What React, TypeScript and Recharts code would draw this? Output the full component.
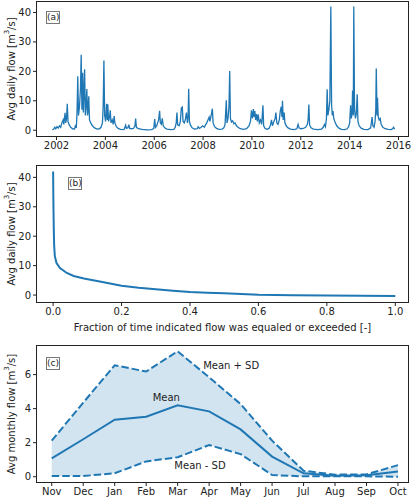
import React from "react";
import {
  LineChart,
  Line,
  ComposedChart,
  Area,
  XAxis,
  YAxis,
  ReferenceDot,
} from "recharts";

// (a) daily flow series, [decimal year, flow m3/s]
const dailyFlow: [number, number][] = [
  [2001.83, 0.1], [2001.88, 0.3], [2001.93, 1.0], [2001.97, 0.5], [2002.02, 1.2],
  [2002.07, 0.7], [2002.12, 1.5], [2002.17, 1.0], [2002.22, 2.5], [2002.27, 3.5],
  [2002.3, 2.0], [2002.35, 5.9], [2002.38, 2.5], [2002.41, 4.0], [2002.44, 9.0],
  [2002.47, 3.0], [2002.52, 1.8], [2002.58, 1.0], [2002.66, 0.5], [2002.74, 0.4],
  [2002.78, 1.8], [2002.81, 0.8], [2002.84, 6.0], [2002.87, 18.3], [2002.9, 5.0],
  [2002.94, 8.0], [2002.98, 14.0], [2003.01, 25.6], [2003.04, 7.0], [2003.07, 19.5],
  [2003.1, 6.0], [2003.15, 20.7], [2003.18, 5.0], [2003.21, 8.0], [2003.24, 14.0],
  [2003.27, 5.0], [2003.29, 6.5], [2003.32, 11.5], [2003.35, 3.5], [2003.4, 2.5],
  [2003.47, 1.5], [2003.56, 0.8], [2003.66, 0.4], [2003.76, 0.5], [2003.82, 1.0],
  [2003.88, 2.5], [2003.91, 8.0], [2003.94, 23.7], [2003.97, 5.0], [2004.01, 3.0],
  [2004.05, 9.0], [2004.08, 3.5], [2004.1, 8.8], [2004.13, 3.0], [2004.17, 4.5],
  [2004.2, 6.8], [2004.23, 2.5], [2004.28, 3.5], [2004.32, 2.0], [2004.36, 4.8],
  [2004.39, 2.5], [2004.45, 1.2], [2004.52, 0.6], [2004.62, 0.3], [2004.76, 0.2],
  [2004.83, 1.7], [2004.86, 0.6], [2004.92, 0.8], [2004.96, 1.9], [2004.99, 0.7],
  [2005.05, 0.5], [2005.15, 0.6], [2005.21, 1.5], [2005.24, 4.0], [2005.27, 1.0],
  [2005.35, 0.5], [2005.5, 0.3], [2005.7, 0.1], [2005.9, 0.2], [2005.98, 0.6],
  [2006.02, 3.8], [2006.05, 1.0], [2006.1, 1.5], [2006.14, 2.5], [2006.18, 3.5],
  [2006.22, 6.6], [2006.25, 2.5], [2006.29, 2.0], [2006.33, 4.0], [2006.37, 1.5],
  [2006.43, 0.8], [2006.52, 0.4], [2006.68, 0.2], [2006.8, 0.3], [2006.86, 1.0],
  [2006.9, 2.5], [2006.93, 6.0], [2006.96, 1.8], [2007.02, 1.5], [2007.07, 3.0],
  [2007.11, 7.5], [2007.15, 7.8], [2007.18, 3.0], [2007.23, 2.5], [2007.27, 3.5],
  [2007.32, 6.0], [2007.36, 2.5], [2007.39, 5.0], [2007.41, 14.1], [2007.44, 3.0],
  [2007.48, 1.8], [2007.55, 0.8], [2007.65, 0.4], [2007.76, 0.5], [2007.8, 1.2],
  [2007.85, 0.6], [2007.92, 1.0], [2007.98, 1.5], [2008.05, 1.0], [2008.1, 1.8],
  [2008.15, 2.5], [2008.2, 3.5], [2008.25, 4.5], [2008.28, 3.0], [2008.32, 4.5],
  [2008.35, 6.0], [2008.38, 7.3], [2008.41, 2.5], [2008.47, 1.2], [2008.55, 0.6],
  [2008.65, 0.3], [2008.78, 0.4], [2008.85, 0.8], [2008.9, 2.0], [2008.95, 10.2],
  [2008.98, 2.5], [2009.02, 4.0], [2009.06, 8.0], [2009.09, 20.1], [2009.12, 4.0],
  [2009.16, 2.8], [2009.21, 3.2], [2009.26, 2.2], [2009.31, 2.5], [2009.36, 1.6],
  [2009.43, 1.0], [2009.52, 0.5], [2009.65, 0.3], [2009.78, 0.5], [2009.88, 1.5],
  [2009.94, 3.0], [2009.98, 6.8], [2010.02, 4.0], [2010.06, 7.2], [2010.09, 4.5],
  [2010.12, 6.5], [2010.15, 3.5], [2010.19, 5.5], [2010.22, 3.0], [2010.26, 5.3],
  [2010.3, 2.5], [2010.35, 3.5], [2010.4, 2.0], [2010.45, 8.5], [2010.48, 1.5],
  [2010.54, 0.6], [2010.62, 0.3], [2010.7, 0.6], [2010.76, 1.8], [2010.8, 3.5],
  [2010.84, 1.5], [2010.9, 3.0], [2010.95, 4.0], [2010.98, 6.0], [2011.02, 2.5],
  [2011.07, 2.0], [2011.12, 3.5], [2011.16, 6.5], [2011.2, 8.0], [2011.23, 4.5],
  [2011.25, 10.0], [2011.28, 3.5], [2011.32, 6.0], [2011.35, 2.5], [2011.4, 1.5],
  [2011.48, 0.8], [2011.58, 0.4], [2011.72, 0.2], [2011.84, 0.5], [2011.89, 2.0],
  [2011.93, 0.8], [2012.0, 0.5], [2012.1, 0.6], [2012.2, 1.0], [2012.27, 2.0],
  [2012.3, 3.5], [2012.33, 8.7], [2012.36, 1.8], [2012.42, 0.8], [2012.52, 0.4],
  [2012.7, 0.2], [2012.85, 0.4], [2012.92, 1.0], [2012.97, 2.0], [2013.01, 1.2],
  [2013.05, 4.0], [2013.08, 13.9], [2013.11, 5.0], [2013.15, 7.0], [2013.19, 10.0],
  [2013.23, 42.0], [2013.26, 9.0], [2013.29, 5.0], [2013.32, 6.5], [2013.35, 4.0],
  [2013.4, 2.8], [2013.47, 1.5], [2013.56, 0.7], [2013.66, 0.3], [2013.8, 0.2],
  [2013.9, 0.5], [2013.96, 1.2], [2014.0, 2.5], [2014.04, 8.5], [2014.07, 4.0],
  [2014.1, 6.0], [2014.12, 13.5], [2014.15, 5.0], [2014.17, 42.0], [2014.2, 7.0],
  [2014.24, 4.0], [2014.27, 5.5], [2014.31, 12.2], [2014.34, 3.0], [2014.39, 1.5],
  [2014.47, 0.7], [2014.58, 0.3], [2014.75, 0.2], [2014.86, 0.8], [2014.92, 4.5],
  [2014.95, 1.5], [2015.0, 1.0], [2015.04, 3.0], [2015.07, 7.0], [2015.09, 21.0],
  [2015.12, 5.0], [2015.14, 11.0], [2015.17, 4.5], [2015.21, 3.5], [2015.25, 4.0],
  [2015.29, 2.0], [2015.36, 1.0], [2015.45, 0.5], [2015.58, 0.3], [2015.7, 0.2],
  [2015.77, 0.6], [2015.8, 1.0], [2015.84, 0.3],
];
const yearTicks = [2002, 2004, 2006, 2008, 2010, 2012, 2014, 2016];
const dailyTicks = [0, 10, 20, 30, 40];

// (b) flow duration curve
const exceedFraction = [
  0, 0.001, 0.002, 0.003, 0.005, 0.01, 0.02, 0.04, 0.06, 0.09, 0.14, 0.2, 0.25,
  0.3, 0.35, 0.4, 0.45, 0.5, 0.55, 0.6, 0.65, 0.7, 0.8, 0.9, 1.0,
];
const durationFlow = [
  42, 30, 22, 17, 13.2, 10.9, 9.2, 7.5, 6.5, 5.6, 4.5, 3.2, 2.5,
  2.0, 1.5, 1.0, 0.8, 0.6, 0.35, 0.12, 0.02, -0.05, -0.15, -0.25, -0.3,
];
const fractionTicks = [0, 0.2, 0.4, 0.6, 0.8, 1.0];

// (c) monthly means (water year)
const months = ["Nov", "Dec", "Jan", "Feb", "Mar", "Apr", "May", "Jun", "Jul", "Aug", "Sep", "Oct"];
const monthlyMean = [1.08, 2.2, 3.35, 3.52, 4.2, 3.84, 2.78, 1.18, 0.2, 0.06, 0.08, 0.31];
const monthlyUpper = [2.12, 4.35, 6.55, 6.18, 7.37, 5.84, 4.27, 2.12, 0.35, 0.12, 0.14, 0.68];
const monthlyLower = [0.04, 0.04, 0.2, 0.9, 1.14, 1.86, 1.33, 0.1, 0.02, 0.02, 0.02, 0.0];
const monthlyTicks = [0, 2, 4, 6];

const BLUE = "#1f77b4";
const INK = "#222";
const FONT = '"DejaVu Sans", sans-serif';
const tickStyle = { fontSize: 10, fill: INK, fontFamily: FONT };

const seriesA = dailyFlow.map(([t, v]) => ({ t, v }));
const seriesB = exceedFraction.map((f, i) => ({ f, q: durationFlow[i] }));
const seriesC = months.map((_, i) => ({
  m: i,
  mean: monthlyMean[i],
  upper: monthlyUpper[i],
  lower: monthlyLower[i],
  band: [monthlyLower[i], monthlyUpper[i]],
}));

const yLabel = (text: string) => (props: any) => {
  const vb = props.viewBox || {};
  const cx = 11;
  const cy = vb.y + vb.height / 2;
  return (
    <text
      x={cx}
      y={cy}
      transform={`rotate(-90, ${cx}, ${cy})`}
      textAnchor="middle"
      dominantBaseline="central"
      fontSize={10}
      fill={INK}
      fontFamily={FONT}
    >
      {text} [m<tspan dy={-4} fontSize={7}>3</tspan>
      <tspan dy={4}>/s]</tspan>
    </text>
  );
};

// axes box drawn over the plot area (matplotlib spines)
const Spines = ({ left, top, width, height }: { left: number; top: number; width: number; height: number }) => (
  <div
    style={{
      position: "absolute",
      left,
      top,
      width,
      height,
      boxSizing: "border-box",
      border: `1px solid ${INK}`,
      pointerEvents: "none",
    }}
  />
);

const PanelTag = ({ text, left, top }: { text: string; left: number; top: number }) => (
  <div
    style={{
      position: "absolute",
      left,
      top,
      width: 14,
      height: 13,
      boxSizing: "border-box",
      border: "1px solid #777",
      background: "#fff",
      fontSize: 9,
      lineHeight: "11px",
      textAlign: "center",
      color: INK,
      fontFamily: FONT,
    }}
  >
    {text}
  </div>
);

export default function App() {
  return (
    <div style={{ position: "absolute", left: 0, top: 0, width: 413, height: 500, background: "#fff", fontFamily: FONT }}>
      <div style={{ position: "absolute", left: 0, top: 0 }}>
        <LineChart width={413} height={160} data={seriesA} margin={{ top: 1, right: 4, left: 0, bottom: 0 }}>
          <XAxis
            dataKey="t"
            type="number"
            domain={[2001.16, 2016.43]}
            ticks={yearTicks}
            interval={0}
            allowDataOverflow
            height={23}
            tickSize={3}
            tickMargin={2}
            tick={tickStyle}
            axisLine={false}
            stroke={INK}
          />
          <YAxis
            type="number"
            domain={[-2.3, 43.9]}
            ticks={dailyTicks}
            interval={0}
            allowDataOverflow
            width={36}
            tickSize={3}
            tickMargin={2}
            tick={tickStyle}
            axisLine={false}
            stroke={INK}
            label={{ content: yLabel("Avg daily flow") }}
          />
          <Line type="linear" dataKey="v" stroke={BLUE} strokeWidth={1.3} dot={false} isAnimationActive={false} />
        </LineChart>
        <Spines left={36} top={1} width={373} height={136} />
        <PanelTag text="(a)" left={46} top={11} />
      </div>

      <div style={{ position: "absolute", left: 0, top: 160 }}>
        <LineChart width={413} height={175} data={seriesB} margin={{ top: 5, right: 4, left: 0, bottom: 0 }}>
          <XAxis
            dataKey="f"
            type="number"
            domain={[-0.05, 1.04]}
            ticks={fractionTicks}
            interval={0}
            allowDataOverflow
            height={32}
            tickSize={3}
            tickMargin={2}
            tick={tickStyle}
            tickFormatter={(v: number) => v.toFixed(1)}
            axisLine={false}
            stroke={INK}
            label={{
              value: "Fraction of time indicated flow was equaled or exceeded [-]",
              position: "insideBottom",
              offset: 4,
              fontSize: 10,
              fill: INK,
              fontFamily: FONT,
            }}
          />
          <YAxis
            type="number"
            domain={[-2.7, 44.2]}
            ticks={dailyTicks}
            interval={0}
            allowDataOverflow
            width={36}
            tickSize={3}
            tickMargin={2}
            tick={tickStyle}
            axisLine={false}
            stroke={INK}
            label={{ content: yLabel("Avg daily flow") }}
          />
          <Line type="linear" dataKey="q" stroke={BLUE} strokeWidth={2} dot={false} isAnimationActive={false} />
        </LineChart>
        <Spines left={36} top={5} width={373} height={138} />
        <PanelTag text="(b)" left={68} top={17} />
      </div>

      <div style={{ position: "absolute", left: 0, top: 340 }}>
        <ComposedChart width={413} height={160} data={seriesC} margin={{ top: 5, right: 4, left: 0, bottom: 0 }}>
          <XAxis
            dataKey="m"
            type="number"
            domain={[-0.5, 11.35]}
            ticks={months.map((_, i) => i)}
            interval={0}
            allowDataOverflow
            height={17}
            tickSize={3}
            tickMargin={2}
            tick={tickStyle}
            tickFormatter={(i: number) => months[i]}
            axisLine={false}
            stroke={INK}
          />
          <YAxis
            type="number"
            domain={[-0.37, 7.74]}
            ticks={monthlyTicks}
            interval={0}
            allowDataOverflow
            width={36}
            tickSize={3}
            tickMargin={2}
            tick={tickStyle}
            axisLine={false}
            stroke={INK}
            label={{ content: yLabel("Avg monthly flow") }}
          />
          <Area type="linear" dataKey="band" stroke="none" fill={BLUE} fillOpacity={0.2} isAnimationActive={false} />
          <Line type="linear" dataKey="upper" stroke={BLUE} strokeWidth={2} strokeDasharray="7.5 3" dot={false} isAnimationActive={false} />
          <Line type="linear" dataKey="mean" stroke={BLUE} strokeWidth={2} dot={false} isAnimationActive={false} />
          <Line type="linear" dataKey="lower" stroke={BLUE} strokeWidth={2} strokeDasharray="7.5 3" dot={false} isAnimationActive={false} />
          <ReferenceDot x={5.7} y={6.54} r={0} stroke="none" label={{ value: "Mean + SD", position: "center", fontSize: 10, fill: INK, fontFamily: FONT }} />
          <ReferenceDot x={3.64} y={4.67} r={0} stroke="none" label={{ value: "Mean", position: "center", fontSize: 10, fill: INK, fontFamily: FONT }} />
          <ReferenceDot x={4.71} y={0.65} r={0} stroke="none" label={{ value: "Mean - SD", position: "center", fontSize: 10, fill: INK, fontFamily: FONT }} />
        </ComposedChart>
        <Spines left={36} top={5} width={373} height={138} />
        <PanelTag text="(c)" left={46} top={17} />
      </div>
    </div>
  );
}
